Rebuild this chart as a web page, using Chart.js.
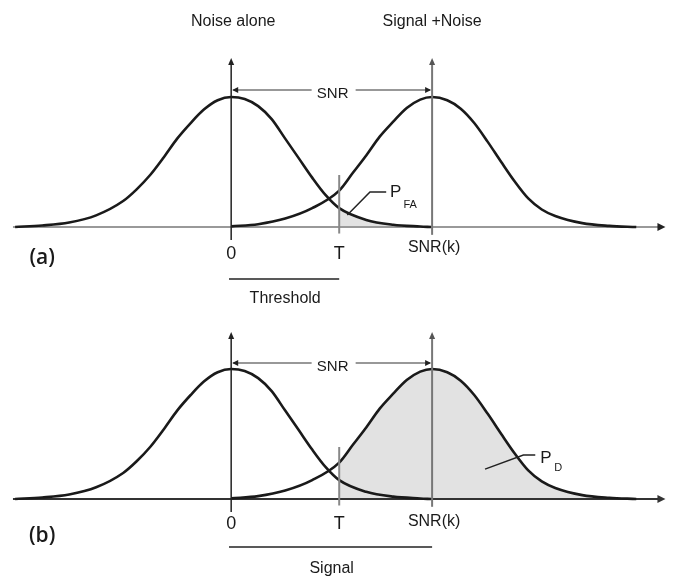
<!DOCTYPE html>
<html>
<head>
<meta charset="utf-8">
<script src="https://cdn.jsdelivr.net/npm/chart.js@4.4.1/dist/chart.umd.min.js"></script>
<style>
  body { margin: 0; background: #fff; }
  #wrap { position: relative; width: 673px; height: 577px; }
  #chartA { position: absolute; left: 0; top: 0; }
  #chartB { position: absolute; left: 0; top: 310px; }
</style>
</head>
<body>
<div id="wrap">
  <canvas id="chartA" width="673" height="310"></canvas>
  <canvas id="chartB" width="673" height="267"></canvas>
</div>
<script>
// curve samples (x in sigma units, y relative to the peak)
const noiseX  = [-4, -3.5, -3, -2.5, -2, -1.75, -1.5, -1.25, -1, -0.75, -0.5, -0.25, 0, 0.25, 0.5, 0.75, 1, 1.25, 1.5, 1.75, 2, 2.5, 3, 3.5, 3.7];
const noiseY  = [0, 0.012, 0.035, 0.09, 0.2, 0.29, 0.40, 0.535, 0.68, 0.80, 0.905, 0.975, 1, 0.985, 0.93, 0.83, 0.68, 0.53, 0.38, 0.245, 0.145, 0.055, 0.018, 0.004, 0];
const signalX = [0, 0.5, 1, 1.5, 2, 2.25, 2.5, 2.75, 3, 3.25, 3.5, 3.72, 4, 4.25, 4.5, 4.75, 5, 5.25, 5.5, 5.75, 6, 6.5, 7, 7.5];
const signalY = [0.005, 0.022, 0.065, 0.145, 0.28, 0.415, 0.55, 0.695, 0.81, 0.915, 0.98, 1, 0.975, 0.91, 0.80, 0.655, 0.50, 0.35, 0.22, 0.135, 0.085, 0.03, 0.009, 0];

const SNR = 3.72;
const T = 2.0;
const tickValues = [0, T, SNR];
const tickLabels = ['0', 'T', 'SNR(k)'];
const curveTitles = ['Noise alone', 'Signal +Noise'];
const panelNames = ['(a)', '(b)'];
const bracketLabels = ['Threshold', 'Signal'];
const areaLabels = [['P', 'FA'], ['P', 'D']];

const xMin = -4.28, xMax = 8.18;
const axisFrom = -4.04, axisTo = 8.04;
const shadeColor = '#e2e2e2';
const ink = '#1a1a1a';

function toPoints(xs, ys) {
  return xs.map((x, i) => ({ x: x, y: ys[i] }));
}

function shadeFill(chart) {
  const area = chart.chartArea;
  if (!area) return 'rgba(0,0,0,0)';
  const px = chart.scales.x.getPixelForValue(T);
  const stop = Math.min(Math.max(px / chart.width, 0), 1);
  const g = chart.ctx.createLinearGradient(0, 0, chart.width, 0);
  g.addColorStop(0, 'rgba(0,0,0,0)');
  g.addColorStop(stop, 'rgba(0,0,0,0)');
  g.addColorStop(stop, shadeColor);
  g.addColorStop(1, shadeColor);
  return g;
}

function arrowHead(ctx, x, y, dir, len, half) {
  ctx.beginPath();
  if (dir === 'up') { ctx.moveTo(x, y); ctx.lineTo(x - half, y + len); ctx.lineTo(x + half, y + len); }
  if (dir === 'right') { ctx.moveTo(x, y); ctx.lineTo(x - len, y - half); ctx.lineTo(x - len, y + half); }
  if (dir === 'left') { ctx.moveTo(x, y); ctx.lineTo(x + len, y - half); ctx.lineTo(x + len, y + half); }
  ctx.closePath();
  ctx.fill();
}

function seg(ctx, x1, y1, x2, y2, color, width) {
  ctx.strokeStyle = color;
  ctx.lineWidth = width;
  ctx.beginPath();
  ctx.moveTo(x1, y1);
  ctx.lineTo(x2, y2);
  ctx.stroke();
}

function label(ctx, str, x, y, font, align) {
  ctx.font = font;
  ctx.fillStyle = ink;
  ctx.textAlign = align || 'center';
  ctx.textBaseline = 'middle';
  ctx.fillText(str, x, y);
}

function makeDecor(p) {
  return {
    id: 'decor',
    beforeDatasetsDraw(chart) {
      const ctx = chart.ctx;
      const X = v => chart.scales.x.getPixelForValue(v);
      const Y = v => chart.scales.y.getPixelForValue(v);
      ctx.save();
      seg(ctx, X(axisFrom), Y(0), X(axisTo) - 6, Y(0), p.axisColor, 2);
      ctx.fillStyle = p.axisColor === '#999' ? '#222' : p.axisColor;
      arrowHead(ctx, X(axisTo), Y(0), 'right', 8, 4);
      ctx.restore();
    },
    afterDatasetsDraw(chart) {
      const ctx = chart.ctx;
      const X = v => chart.scales.x.getPixelForValue(v);
      const Y = v => chart.scales.y.getPixelForValue(v);
      ctx.save();

      // vertical lines at the two means and at the threshold
      seg(ctx, X(0), Y(p.arrowTop) + 4, X(0), Y(-0.1), '#222', 1.5);
      seg(ctx, X(SNR), Y(p.arrowTop) + 4, X(SNR), Y(-0.06), '#777', 2);
      seg(ctx, X(T), Y(0.4), X(T), Y(-0.05), '#888', 2);
      ctx.fillStyle = '#222';
      arrowHead(ctx, X(0), Y(p.arrowTop), 'up', 7, 3);
      ctx.fillStyle = '#555';
      arrowHead(ctx, X(SNR), Y(p.arrowTop), 'up', 7, 3);

      // SNR distance arrow
      const sy = Y(p.snrY);
      const mid = (X(0) + X(SNR)) / 2;
      seg(ctx, X(0) + 2, sy, mid - 20, sy, '#333', 1.2);
      seg(ctx, mid + 24, sy, X(SNR) - 2, sy, '#333', 1.2);
      ctx.fillStyle = '#222';
      arrowHead(ctx, X(0) + 1, sy, 'left', 6, 3);
      arrowHead(ctx, X(SNR) - 1, sy, 'right', 6, 3);
      label(ctx, 'SNR', mid + 1, sy + 4, '15px "Liberation Sans"');

      // curve titles (top panel only)
      if (p.titles) {
        label(ctx, curveTitles[0], X(0) + 2, Y(p.titleY), '16px "Liberation Sans"');
        label(ctx, curveTitles[1], X(SNR), Y(p.titleY), '16px "Liberation Sans"');
      }

      // tick labels under the axis
      label(ctx, tickLabels[0], X(tickValues[0]), Y(p.tickY), '18px "Liberation Sans"');
      label(ctx, tickLabels[1], X(tickValues[1]), Y(p.tickY), '18px "Liberation Sans"');
      label(ctx, tickLabels[2], X(tickValues[2]) + 2, Y(p.snrkY), '16px "Liberation Sans"');

      // panel tag
      label(ctx, p.name, X(-3.5), Y(p.nameY), '600 21px "Open Sans"');

      // bracket with its caption
      seg(ctx, X(-0.04), Y(p.bracketY), X(p.bracketTo), Y(p.bracketY), '#222', 1.5);
      label(ctx, p.bracketText, (X(0) + X(p.bracketTo)) / 2, Y(p.bracketTextY), '16px "Liberation Sans"');

      // area label with leader line
      const L = p.leader;
      ctx.lineJoin = 'miter';
      ctx.strokeStyle = '#222';
      ctx.lineWidth = 1.5;
      ctx.beginPath();
      ctx.moveTo(X(L[0][0]), Y(L[0][1]));
      ctx.lineTo(X(L[1][0]), Y(L[1][1]));
      ctx.lineTo(X(L[2][0]), Y(L[2][1]));
      ctx.stroke();
      label(ctx, p.area[0], X(p.areaPos[0]), Y(p.areaPos[1]), '17px "Liberation Sans"', 'left');
      label(ctx, p.area[1], X(p.subPos[0]), Y(p.subPos[1]), '11px "Liberation Sans"', 'left');

      ctx.restore();
    }
  };
}

function buildChart(canvasId, p) {
  const curve = (xs, ys, shaded) => ({
    data: toPoints(xs, ys),
    borderColor: ink,
    borderWidth: 2.6,
    pointRadius: 0,
    cubicInterpolationMode: 'monotone',
    fill: shaded ? 'origin' : false,
    backgroundColor: shaded ? (c) => shadeFill(c.chart) : 'rgba(0,0,0,0)'
  });
  return new Chart(document.getElementById(canvasId), {
    type: 'line',
    data: {
      datasets: [
        curve(noiseX, noiseY, p.shade === 'noise'),
        curve(signalX, signalY, p.shade === 'signal')
      ]
    },
    options: {
      responsive: false,
      devicePixelRatio: 1,
      animation: false,
      events: [],
      layout: { padding: 0 },
      scales: {
        x: { type: 'linear', min: xMin, max: xMax, display: false },
        y: { type: 'linear', min: p.yMin, max: p.yMax, display: false }
      },
      plugins: {
        legend: { display: false },
        tooltip: { enabled: false },
        filler: { drawTime: 'beforeDatasetsDraw' }
      }
    },
    plugins: [makeDecor(p)]
  });
}

buildChart('chartA', {
  yMin: -0.638, yMax: 1.746,
  shade: 'noise',
  axisColor: '#999',
  titles: true, titleY: 1.577,
  arrowTop: 1.30, snrY: 1.054,
  tickY: -0.208, snrkY: -0.16,
  name: panelNames[0], nameY: -0.238,
  bracketY: -0.40, bracketTo: T, bracketText: bracketLabels[0], bracketTextY: -0.554,
  leader: [[2.15, 0.092], [2.57, 0.27], [2.87, 0.27]],
  area: areaLabels[0], areaPos: [2.94, 0.265], subPos: [3.19, 0.17]
});

buildChart('chartB', {
  yMin: -0.6, yMax: 1.4538,
  shade: 'signal',
  axisColor: '#333',
  titles: false,
  arrowTop: 1.285, snrY: 1.046,
  tickY: -0.192, snrkY: -0.177,
  name: panelNames[1], nameY: -0.285,
  bracketY: -0.369, bracketTo: SNR, bracketText: bracketLabels[1], bracketTextY: -0.538,
  leader: [[4.70, 0.23], [5.41, 0.338], [5.63, 0.338]],
  area: areaLabels[1], areaPos: [5.72, 0.315], subPos: [5.98, 0.24]
});
</script>
</body>
</html>
